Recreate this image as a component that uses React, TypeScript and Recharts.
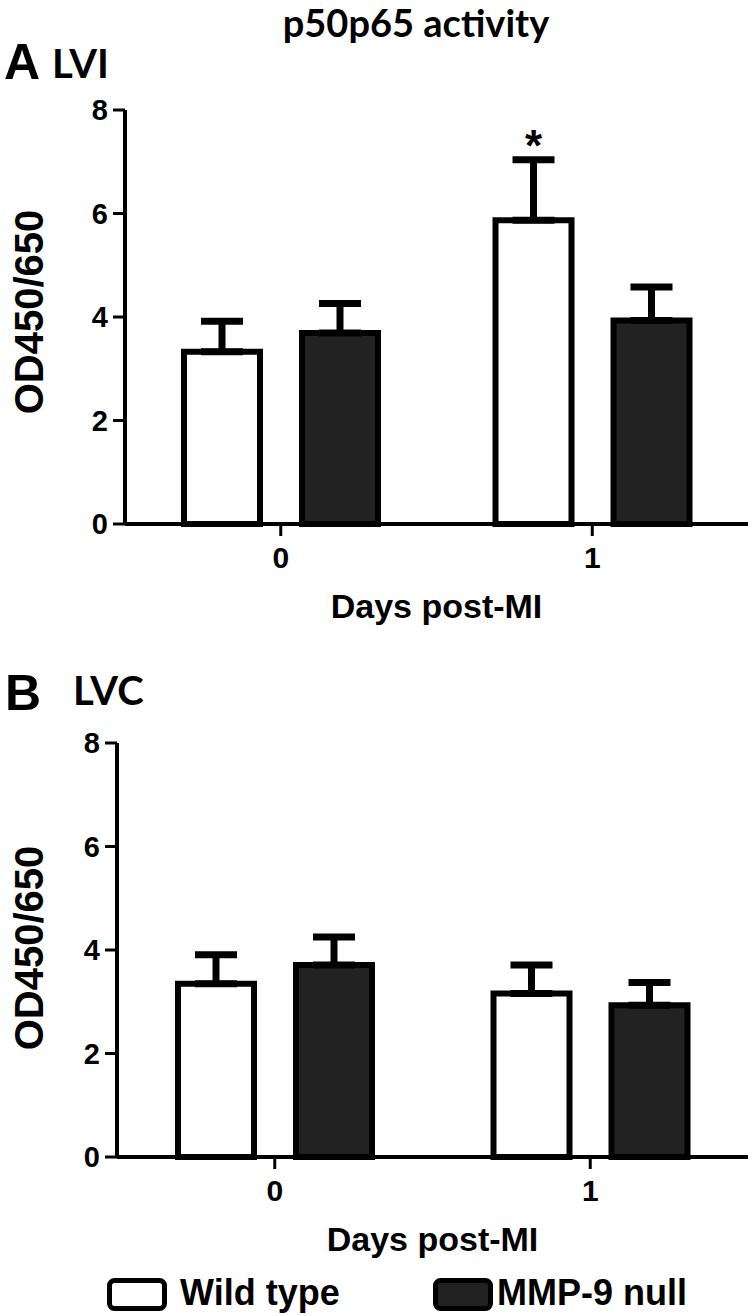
import React from 'react';
import { BarChart, Bar, XAxis, YAxis, ErrorBar, LabelList, Label } from 'recharts';

const days = ['0', '1'];
const seriesNames = ['Wild type', 'MMP-9 null'];
const yTicks = [0, 2, 4, 6, 8];

const lviWT = [3.33, 5.87];
const lviWTsem = [0.59, 1.17];
const lviKO = [3.69, 3.93];
const lviKOsem = [0.57, 0.65];
const lviSig = ['', '*'];

const lvcWT = [3.35, 3.16];
const lvcWTsem = [0.56, 0.55];
const lvcKO = [3.71, 2.93];
const lvcKOsem = [0.54, 0.44];
const lvcSig = ['', ''];

const ARIAL = '"Liberation Sans", Arial, sans-serif';
const CAL = 'Lato, "Open Sans", "Liberation Sans", sans-serif';

const buildData = (wt: number[], wtS: number[], ko: number[], koS: number[], sig: string[]) =>
  days.map((d, i) => ({
    day: d,
    wt: wt[i],
    ko: ko[i],
    wtErr: [0, wtS[i]],
    koErr: [0, koS[i]],
    sig: sig[i],
  }));

const dataA = buildData(lviWT, lviWTsem, lviKO, lviKOsem, lviSig);
const dataB = buildData(lvcWT, lvcWTsem, lvcKO, lvcKOsem, lvcSig);

const tickStyle = { fill: '#000', fontFamily: ARIAL, fontWeight: 700 };

function Panel({ data, wt, wtS, yAxisWidth, labelY }: any) {
  return (
    <BarChart
      width={755}
      height={650}
      data={data}
      margin={{ top: 110, right: 7, left: 0, bottom: 0 }}
      barSize={76}
      barGap={42}
    >
      <XAxis
        dataKey="day"
        height={126}
        axisLine={{ stroke: '#000', strokeWidth: 4 }}
        tickLine={{ stroke: '#000', strokeWidth: 3 }}
        tickSize={12}
        tickMargin={11}
        tick={{ ...tickStyle, fontSize: 30 }}
      >
        <Label
          value="Days post-MI"
          position="insideBottom"
          offset={32}
          style={{ fill: '#000', fontFamily: ARIAL, fontWeight: 700, fontSize: 34 }}
        />
      </XAxis>
      <YAxis
        width={yAxisWidth}
        domain={[0, 8]}
        ticks={yTicks}
        interval={0}
        axisLine={{ stroke: '#000', strokeWidth: 4 }}
        tickLine={{ stroke: '#000', strokeWidth: 3 }}
        tickSize={12}
        tickMargin={5}
        tick={{ ...tickStyle, fontSize: 29 }}
      >
        <Label
          content={() => (
            <text
              transform={`translate(43, ${labelY}) rotate(-90)`}
              textAnchor="middle"
              style={{ fill: '#000', fontFamily: ARIAL, fontWeight: 700, fontSize: 40 }}
            >
              OD450/650
            </text>
          )}
        />
      </YAxis>
      <Bar dataKey="wt" fill="#ffffff" stroke="#000" strokeWidth={6} isAnimationActive={false}>
        <ErrorBar dataKey="wtErr" direction="y" width={21} stroke="#000" strokeWidth={7} />
        <LabelList
          dataKey="sig"
          content={(p: any) => {
            if (!p.value) return null;
            const i = p.index;
            const px = p.height / wt[i];
            const capY = p.y - wtS[i] * px;
            return (
              <text
                x={p.x + p.width / 2}
                y={capY + 1}
                textAnchor="middle"
                style={{ fill: '#000', fontFamily: ARIAL, fontWeight: 700, fontSize: 44 }}
              >
                {p.value}
              </text>
            );
          }}
        />
      </Bar>
      <Bar dataKey="ko" fill="#222222" stroke="#000" strokeWidth={6} isAnimationActive={false}>
        <ErrorBar dataKey="koErr" direction="y" width={21} stroke="#000" strokeWidth={7} />
      </Bar>
    </BarChart>
  );
}

export default function App() {
  return (
    <div style={{ position: 'absolute', left: 0, top: 0, width: 755, height: 1316, background: '#fff', overflow: 'hidden' }}>
      <div style={{ position: 'absolute', left: 0, top: 0 }}>
        <Panel data={dataA} wt={lviWT} wtS={lviWTsem} yAxisWidth={125} labelY={312} />
      </div>
      <div style={{ position: 'absolute', left: 0, top: 633 }}>
        <Panel data={dataB} wt={lvcWT} wtS={lvcWTsem} yAxisWidth={117} labelY={315} />
      </div>
      <svg
        width={755}
        height={1316}
        style={{ position: 'absolute', left: 0, top: 0, pointerEvents: 'none' }}
      >
        <text x={416} y={37} textAnchor="middle" style={{ fontFamily: CAL, fontWeight: 700, fontSize: 38, fill: '#000' }}>
          p50p65 activity
        </text>
        <text x={4} y={79} style={{ fontFamily: ARIAL, fontWeight: 700, fontSize: 50, fill: '#000' }}>A</text>
        <text x={52} y={78} style={{ fontFamily: CAL, fontWeight: 700, fontSize: 40, fill: '#000' }}>LVI</text>
        <text x={5} y={710} style={{ fontFamily: ARIAL, fontWeight: 700, fontSize: 50, fill: '#000' }}>B</text>
        <text x={73} y={705} style={{ fontFamily: CAL, fontWeight: 700, fontSize: 40, fill: '#000' }}>LVC</text>
        <rect x={109.5} y={1280.5} width={55} height={28} rx={5} fill="#fff" stroke="#000" strokeWidth={5} />
        <text x={180} y={1305} style={{ fontFamily: ARIAL, fontWeight: 700, fontSize: 36, fill: '#000' }}>{seriesNames[0]}</text>
        <rect x={435.5} y={1280.5} width={55} height={28} rx={5} fill="#222" stroke="#000" strokeWidth={5} />
        <text x={497} y={1305} style={{ fontFamily: ARIAL, fontWeight: 700, fontSize: 36, fill: '#000' }}>{seriesNames[1]}</text>
      </svg>
    </div>
  );
}
